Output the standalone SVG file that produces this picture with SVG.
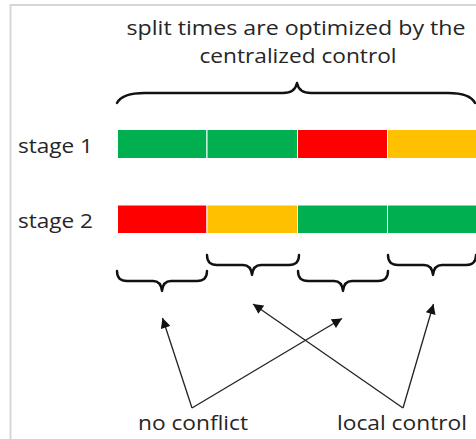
<svg xmlns="http://www.w3.org/2000/svg" width="476" height="439" viewBox="0 0 476 439">
<defs>
<style>
.t{font-family:"Open Sans","Noto Sans","Liberation Sans",sans-serif;font-size:20px;fill:#262626}
.g{fill:#00B050}.r{fill:#FF0000}.y{fill:#FFC000}
.seg{stroke:#ffffff;stroke-width:1}
.br{fill:none;stroke:#111;stroke-width:2.4;stroke-linejoin:round;stroke-linecap:round}
.ar{fill:none;stroke:#222;stroke-width:1.3}
</style>
<marker id="ah" viewBox="0 0 10 10" refX="10" refY="5" markerWidth="11" markerHeight="10" markerUnits="userSpaceOnUse" orient="auto">
<path d="M0,0 L10,5 L0,10 z" fill="#111"/>
</marker>
</defs>
<rect width="476" height="439" fill="#ffffff"/>
<g id="frame"><path d="M10.5,439 V5 H476" fill="none" stroke="#d3d7db" stroke-width="2"/></g>
<g id="title">
<text class="t" x="296" y="35" text-anchor="middle" textLength="339" lengthAdjust="spacingAndGlyphs">split times are optimized by the</text>
<text class="t" x="298" y="63" text-anchor="middle" textLength="197" lengthAdjust="spacingAndGlyphs">centralized control</text>
</g>
<g id="top-brace"><path class="br" d="M117,103 Q122,93 145,93 L283,93 Q295,93 297,83 Q299,93 311,93 L448,93 Q470,93 475,103"/></g>
<g id="stage1">
<text class="t" x="18" y="153" textLength="75" lengthAdjust="spacingAndGlyphs">stage 1</text>
<rect class="g seg" x="117.5" y="129.5" width="89.5" height="29"/>
<rect class="g seg" x="207" y="129.5" width="90.5" height="29"/>
<rect class="r seg" x="297.5" y="129.5" width="90" height="29"/>
<rect class="y seg" x="387.5" y="129.5" width="90" height="29"/>
</g>
<g id="stage2">
<text class="t" x="18" y="228" textLength="75" lengthAdjust="spacingAndGlyphs">stage 2</text>
<rect class="r seg" x="117.5" y="205" width="89.5" height="28.5"/>
<rect class="y seg" x="207" y="205" width="90.5" height="28.5"/>
<rect class="g seg" x="297.5" y="205" width="90" height="28.5"/>
<rect class="g seg" x="387.5" y="205" width="90" height="28.5"/>
</g>
<g id="brace-a"><path class="br" d="M117,271 Q117,281 127,281 L153,281 Q161,281 162,291 Q163,281 171,281 L197,281 Q207,281 207,271"/></g>
<g id="brace-b"><path class="br" d="M207,255 Q207,265 217,265 L243,265 Q251,265 252,275 Q253,265 261,265 L289,265 Q299,265 299,255"/></g>
<g id="brace-c"><path class="br" d="M298,271 Q298,281 308,281 L334,281 Q342,281 343,291 Q344,281 352,281 L378,281 Q388,281 388,271"/></g>
<g id="brace-d"><path class="br" d="M388,255 Q388,265 398,265 L424,265 Q432,265 433,275 Q434,265 442,265 L466,265 Q476,265 476,255"/></g>
<g id="connectors">
<line class="ar" x1="192" y1="408" x2="162.5" y2="318" marker-end="url(#ah)"/>
<line class="ar" x1="192" y1="408" x2="342" y2="318.5" marker-end="url(#ah)"/>
<line class="ar" x1="403" y1="408" x2="253" y2="304" marker-end="url(#ah)"/>
<line class="ar" x1="403" y1="408" x2="433.5" y2="304" marker-end="url(#ah)"/>
</g>
<g id="label-no-conflict"><text class="t" x="138" y="430" textLength="110" lengthAdjust="spacingAndGlyphs">no conflict</text></g>
<g id="label-local-control"><text class="t" x="337" y="430" textLength="130" lengthAdjust="spacingAndGlyphs">local control</text></g>
</svg>
